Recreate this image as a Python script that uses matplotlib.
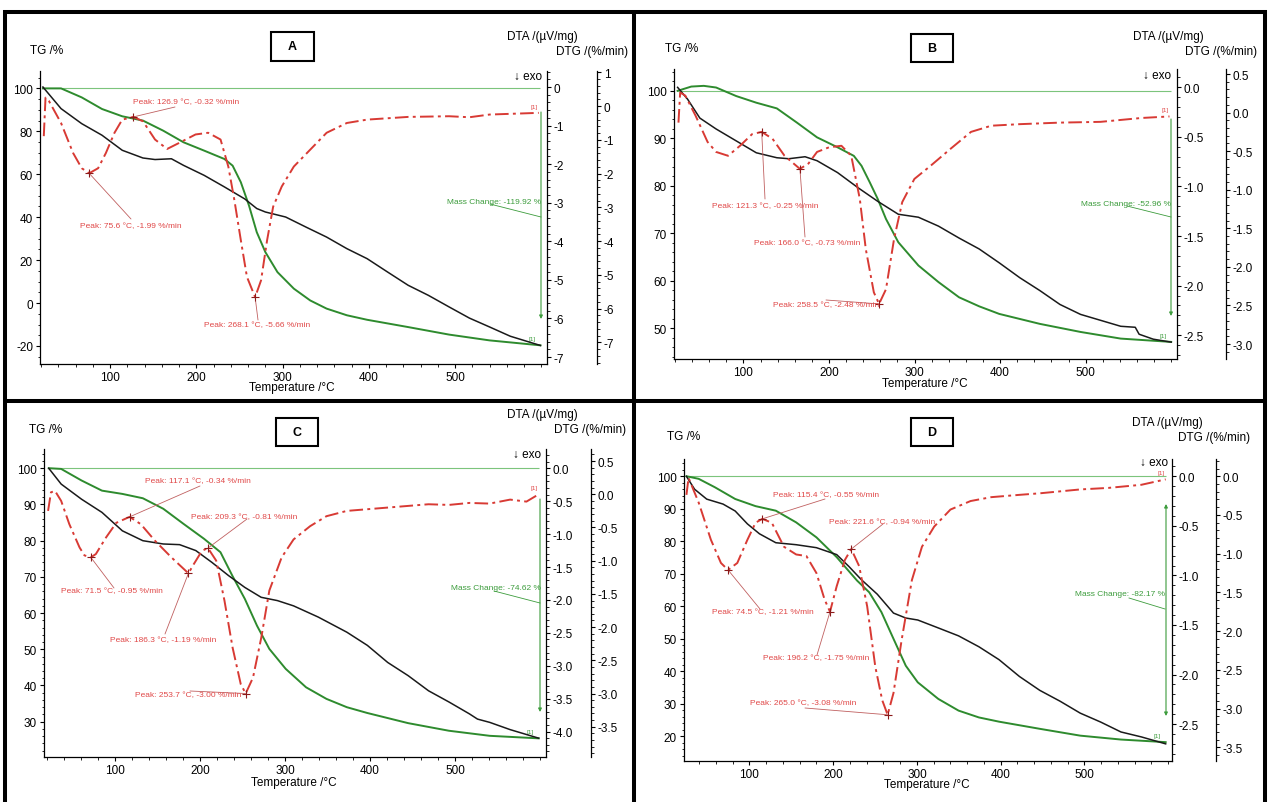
import matplotlib
matplotlib.use('Agg')
import matplotlib.pyplot as plt
from matplotlib.lines import Line2D
from matplotlib.patches import Rectangle
from matplotlib.ticker import MultipleLocator, FormatStrFormatter

plt.rcParams['font.family'] = ['Liberation Sans', 'DejaVu Sans']
plt.rcParams['axes.unicode_minus'] = False

# ---------------- data ----------------
# Panel A
temp_A_tg = [22, 43, 67, 90.5, 114, 138, 161.5, 185, 209, 232.5, 242, 251.5, 261, 270, 280, 294, 313, 332, 351,
             374.5, 398, 445.6, 493, 540, 599]
tg_A = [100, 100, 95.8, 90.4, 87, 85, 80.3, 74.9, 71, 67.1, 64, 56.3, 45.4, 33, 23.7, 14.4, 6.7, 1.2, -2.6,
        -5.7, -7.8, -11.2, -14.7, -17.4, -19.7]
temp_A_dta = [22, 43, 67, 90.5, 114, 138, 152, 171, 185, 209, 232.5, 256, 270, 280, 303.5, 327, 351, 374.5, 398,
              422, 445.6, 469, 493, 516.6, 540, 564, 599]
dta_A = [0, -0.56, -0.95, -1.25, -1.64, -1.84, -1.88, -1.86, -2.03, -2.29, -2.59, -2.9, -3.15, -3.24, -3.37,
         -3.63, -3.89, -4.19, -4.45, -4.8, -5.14, -5.4, -5.7, -5.99, -6.22, -6.46, -6.7]
temp_A_dtg = [23, 25, 29, 43, 57, 67, 75.6, 86, 95, 105, 114, 126.9, 138, 152, 166, 180, 199, 213.6, 228, 237,
              244, 251.5, 258.6, 268.1, 275, 282, 289, 299, 313, 332, 351, 374.5, 398, 445.6, 493, 516.6, 540, 597]
dtg_A = [-0.89, 0.25, 0.15, -0.5, -1.39, -1.84, -1.99, -1.84, -1.39, -0.79, -0.4, -0.32, -0.45, -0.99, -1.27,
         -1.09, -0.84, -0.79, -0.99, -1.79, -2.78, -3.97, -5.06, -5.66, -5.16, -3.97, -2.98, -2.38, -1.79, -1.29,
         -0.79, -0.5, -0.4, -0.32, -0.3, -0.33, -0.25, -0.2]
peaks_A = [("126.9", -0.32), ("75.6", -1.99), ("268.1", -5.66)]
mass_change_A = "-119.92"

# Panel B
temp_B_tg = [23, 39, 53.6, 68, 91.5, 115, 139, 162.5, 186, 210, 229, 238, 247.7, 257, 266.6, 281, 304.5, 328, 352,
             375.5, 399, 446.5, 494, 541, 600]
tg_B = [100, 100.9, 101.05, 100.7, 98.9, 97.5, 96.3, 93.3, 90.2, 88.1, 86.3, 84.2, 80.7, 77.2, 73, 68.1, 63.2,
        59.7, 56.5, 54.6, 53, 50.9, 49.2, 47.8, 47.1]
temp_B_dta = [23, 34.7, 49, 68, 91.5, 115, 139, 153, 172, 186, 210, 233.5, 257, 281, 304.5, 328, 352, 375.5, 399,
              423, 446.5, 470, 494, 517.5, 541, 558, 562.5, 579, 600]
dta_B = [0, -0.12, -0.31, -0.42, -0.54, -0.66, -0.71, -0.72, -0.70, -0.74, -0.86, -1.01, -1.15, -1.28, -1.31,
         -1.40, -1.52, -1.63, -1.77, -1.92, -2.05, -2.19, -2.29, -2.35, -2.41, -2.42, -2.49, -2.54, -2.57]
temp_B_dtg = [24, 26, 32, 44, 58, 68, 82, 96, 110, 121.3, 134, 148, 166, 176, 186, 200, 214.5, 226, 236, 243,
              252.4, 258.5, 266.6, 276, 285.6, 299.8, 318.7, 342, 366, 389.7, 423, 470, 517.5, 565, 598]
dtg_B = [-0.13, 0.26, 0.22, -0.04, -0.38, -0.51, -0.56, -0.43, -0.28, -0.25, -0.34, -0.56, -0.73, -0.66, -0.51,
         -0.45, -0.43, -0.56, -1.12, -1.77, -2.33, -2.48, -2.29, -1.64, -1.16, -0.86, -0.69, -0.47, -0.25, -0.17,
         -0.15, -0.13, -0.12, -0.07, -0.05]
peaks_B = [("121.3", -0.25), ("166.0", -0.73), ("258.5", -2.48)]
mass_change_B = "-52.96"

# Panel C
temp_C_tg = [22, 36.6, 60.6, 84.6, 108.6, 132.7, 156.7, 180.7, 204.7, 224, 238, 252.7, 267, 281.5, 300.7, 324.7,
             348.7, 372.7, 396.8, 444.8, 492.8, 540.8, 598.4]
tg_C = [100, 99.8, 96.6, 93.8, 92.9, 91.7, 88.8, 84.6, 80.5, 76.8, 70.3, 63.9, 56.5, 50.1, 44.6, 39.5, 36.3, 34,
        32.4, 29.6, 27.5, 26.1, 25.4]
temp_C_dta = [22, 36.6, 60.6, 84.6, 108.6, 132.7, 156.7, 175.9, 195, 214, 233.5, 252.7, 271.9, 291, 310, 339,
              372.7, 396.8, 420.8, 444.8, 468.8, 492.8, 516.8, 526.4, 540.8, 564.8, 598.4]
dta_C = [0, -0.24, -0.47, -0.67, -0.95, -1.10, -1.15, -1.16, -1.25, -1.43, -1.63, -1.81, -1.96, -2.01, -2.09,
         -2.26, -2.49, -2.69, -2.95, -3.15, -3.38, -3.55, -3.73, -3.81, -3.86, -3.97, -4.10]
temp_C_dtg = [21.2, 24.6, 29.4, 36.6, 46.2, 58.2, 64, 71.5, 77.4, 89.4, 101.4, 117.1, 130.3, 147, 166.3, 186.3,
              192.7, 202.3, 209.3, 219, 228.7, 238.3, 247.9, 253.7, 262.3, 272, 281.5, 296, 310, 329.5, 348.7,
              372.7, 420.8, 468.8, 492.8, 516.8, 540.8, 564.8, 584, 598.4]
dtg_C = [-0.25, 0.03, 0.05, -0.10, -0.45, -0.80, -0.92, -0.95, -0.90, -0.65, -0.43, -0.34, -0.45, -0.70, -0.95,
         -1.19, -1.05, -0.85, -0.81, -1.00, -1.60, -2.31, -2.86, -3.00, -2.76, -2.16, -1.45, -0.95, -0.68, -0.48,
         -0.33, -0.25, -0.20, -0.15, -0.16, -0.13, -0.14, -0.08, -0.11, 0.0]
peaks_C = [("117.1", -0.34), ("209.3", -0.81), ("71.5", -0.95), ("186.3", -1.19), ("253.7", -3.00)]
mass_change_C = "-74.62"

# Panel D
temp_D_tg = [24.8, 39.4, 58.8, 83, 107.3, 131.5, 155.8, 180, 204.2, 228.5, 243, 257.6, 272, 286.7, 301, 325.5,
             349.7, 374, 398, 446.7, 495, 543.6, 597]
tg_D = [100, 99.2, 96.6, 93, 90.8, 89.4, 85.8, 81.2, 75.1, 67.9, 64.3, 58.2, 50, 41.7, 36.6, 31.5, 27.9, 25.8,
        24.5, 22.3, 20.2, 19, 18.2]
temp_D_dta = [24.8, 34.5, 49, 68.5, 83, 97.6, 112, 131.5, 155.8, 180, 204.2, 218.8, 233.3, 252.7, 272, 286.7,
              301, 325.5, 349.7, 374, 398, 422.4, 446.7, 471, 495, 519.4, 543.6, 568, 597]
dta_D = [0, -0.13, -0.23, -0.28, -0.35, -0.48, -0.58, -0.67, -0.69, -0.72, -0.79, -0.91, -1.04, -1.19, -1.38,
         -1.43, -1.45, -1.53, -1.61, -1.72, -1.85, -2.02, -2.16, -2.27, -2.39, -2.48, -2.58, -2.63, -2.70]
temp_D_dtg = [24.8, 27.3, 39.4, 54, 66, 74.5, 85.5, 97.6, 107.3, 115.4, 126.7, 141.2, 155.8, 168, 180, 189.7,
              196.2, 204.2, 214, 221.6, 231, 240.6, 250.3, 258.5, 265, 272, 281.8, 294, 306, 320.6, 340, 364,
              388.5, 422.4, 446.7, 495, 529, 568, 597]
dtg_D = [-0.24, -0.02, -0.34, -0.82, -1.12, -1.21, -1.12, -0.82, -0.60, -0.55, -0.60, -0.91, -1.01, -1.03, -1.25,
         -1.59, -1.75, -1.42, -1.08, -0.94, -1.16, -1.68, -2.46, -2.89, -3.08, -2.80, -2.11, -1.34, -0.91, -0.65,
         -0.43, -0.32, -0.27, -0.24, -0.22, -0.17, -0.15, -0.11, -0.04]
peaks_D = [("115.4", -0.55), ("221.6", -0.94), ("74.5", -1.21), ("196.2", -1.75), ("265.0", -3.08)]
mass_change_D = "-82.17"

x_ticks = [100, 200, 300, 400, 500]

# ---------------- layout (pixels, origin top-left) ----------------
W, H = 1270, 803
GREEN = '#2e8b2e'
GREEN_T = '#3c9c3c'
RED = '#d83a34'
RED_T = '#e04848'
MARK = '#8b1a1a'

panels = [
    dict(name='A', tg=(temp_A_tg, tg_A), dta=(temp_A_dta, dta_A), dtg=(temp_A_dtg, dtg_A), peaks=peaks_A,
         mc=mass_change_A,
         box=(40, 72, 547, 365), dtg_off=50, xlim=(18.6, 606.6),
         tg_lim=(-28.4, 108.1), dta_lim=(-7.18, 0.415), dtg_lim=(-7.64, 1.04),
         tg_tick=(20, 5), dta_tick=(1, 0.2), dtg_tick=(1, 0.2), rfmt='%d',
         tg_lab=(30, 51), lbox=(271, 33, 314, 62), dta_lab=(542, 37), dtg_lab=(628, 52), exo=(542, 77),
         xlab=(292, 388),
         ptext=[(133, 103, 175, 108), (80, 227, 131, 220), (204, 326, 258, 321)],
         mc_text=(541, 203), mc_lead=(490, 205, 541, 218), arrow=(541, 113, 320, False)),
    dict(name='B', tg=(temp_B_tg, tg_B), dta=(temp_B_dta, dta_B), dtg=(temp_B_dtg, dtg_B), peaks=peaks_B,
         mc=mass_change_B,
         box=(673.5, 70, 1177, 360), dtg_off=49, xlim=(18.2, 606.8),
         tg_lim=(43.5, 104.6), dta_lim=(-2.74, 0.185), dtg_lim=(-3.194, 0.565),
         tg_tick=(10, 2), dta_tick=(0.5, 0.1), dtg_tick=(0.5, 0.1), rfmt='%.1f',
         tg_lab=(665, 49), lbox=(911, 35, 953, 63), dta_lab=(1168, 37), dtg_lab=(1257, 52), exo=(1171, 76),
         xlab=(924.5, 384),
         ptext=[(712, 207, 765, 200), (754, 244, 805, 238), (773, 306, 826, 301)],
         mc_text=(1171, 204), mc_lead=(1127, 207, 1171, 218), arrow=(1171, 120, 317, False)),
    dict(name='C', tg=(temp_C_tg, tg_C), dta=(temp_C_dta, dta_C), dtg=(temp_C_dtg, dtg_C), peaks=peaks_C,
         mc=mass_change_C,
         box=(44, 450, 546, 758), dtg_off=45, xlim=(16.4, 607),
         tg_lim=(20.25, 105.3), dta_lim=(-4.386, 0.293), dtg_lim=(-3.956, 0.682),
         tg_tick=(10, 2), dta_tick=(0.5, 0.1), dtg_tick=(0.5, 0.1), rfmt='%.1f',
         tg_lab=(29, 430), lbox=(276, 419, 318, 447), dta_lab=(542, 415), dtg_lab=(626.5, 430), exo=(541, 455),
         xlab=(294, 783),
         ptext=[(145, 482, 200, 487), (191, 518, 247, 520), (61, 592, 114, 589), (110, 641, 165, 635),
                (135, 696, 190, 692)],
         mc_text=(541, 588), mc_lead=(494, 592, 540, 604), arrow=(540, 500, 713, False)),
    dict(name='D', tg=(temp_D_tg, tg_D), dta=(temp_D_dta, dta_D), dtg=(temp_D_dtg, dtg_D), peaks=peaks_D,
         mc=mass_change_D,
         box=(683.6, 460, 1171.7, 762), dtg_off=44, xlim=(21.4, 604.2),
         tg_lim=(12.4, 105.3), dta_lim=(-2.873, 0.175), dtg_lim=(-3.677, 0.223),
         tg_tick=(10, 2), dta_tick=(0.5, 0.1), dtg_tick=(0.5, 0.1), rfmt='%.1f',
         tg_lab=(667, 437), lbox=(911, 419, 953, 447), dta_lab=(1167, 423), dtg_lab=(1250, 438), exo=(1168, 463),
         xlab=(926.5, 785),
         ptext=[(773, 496, 825, 500), (829, 523, 883, 525), (712, 613, 760, 610), (763, 659, 817, 656),
                (750, 704, 805, 709)],
         mc_text=(1165, 595), mc_lead=(1129, 599, 1165, 610), arrow=(1166, 505, 717, True)),
]

fig = plt.figure(figsize=(W / 100, H / 100), dpi=100)


def ftext(x, y, s, **kw):
    fig.text(x / W, 1 - y / H, s, **kw)


def style_axis(axis_obj, major, minor, fmt):
    axis_obj.set_major_locator(MultipleLocator(major))
    axis_obj.set_minor_locator(MultipleLocator(minor))
    axis_obj.set_major_formatter(FormatStrFormatter(fmt))


for p in panels:
    l, t, r, b = p['box']
    ax = fig.add_axes([l / W, 1 - b / H, (r - l) / W, (b - t) / H])
    ax.patch.set_alpha(0)
    for s in ('top', 'right'):
        ax.spines[s].set_visible(False)
    ax.set_xlim(*p['xlim'])
    ax.set_ylim(*p['tg_lim'])
    ax.set_xticks(x_ticks)
    ax.xaxis.set_minor_locator(MultipleLocator(20))
    style_axis(ax.yaxis, p['tg_tick'][0], p['tg_tick'][1], '%d')

    ax2 = ax.twinx()
    ax2.set_ylim(*p['dta_lim'])
    for s in ('top', 'left', 'bottom'):
        ax2.spines[s].set_visible(False)
    style_axis(ax2.yaxis, p['dta_tick'][0], p['dta_tick'][1], p['rfmt'])

    ax3 = ax.twinx()
    ax3.set_ylim(*p['dtg_lim'])
    for s in ('top', 'left', 'bottom'):
        ax3.spines[s].set_visible(False)
    ax3.spines['right'].set_position(('outward', p['dtg_off'] * 0.72))
    style_axis(ax3.yaxis, p['dtg_tick'][0], p['dtg_tick'][1], p['rfmt'])

    for a in (ax, ax2, ax3):
        for s in a.spines.values():
            s.set_linewidth(0.9)
        a.tick_params(which='major', direction='out', length=3, width=0.8, labelsize=8.5, pad=2)
        a.tick_params(which='minor', direction='out', length=1.8, width=0.6)

    # curves
    tT, tV = p['tg']
    ax.hlines(100, tT[0], tT[-1], colors='#7cc47c', lw=0.8, zorder=2)
    ax.plot(tT, tV, color=GREEN, lw=1.4, zorder=4)
    ax.annotate('[1]', xy=(tT[-1], tV[-1]), xytext=(-6, 3), textcoords='offset points', fontsize=4.5,
                color=GREEN_T, ha='center', va='bottom')
    dT, dV = p['dta']
    ax2.plot(dT, dV, color='#1a1a1a', lw=1.1, zorder=4)
    gT, gV = p['dtg']
    ax3.plot(gT, gV, color=RED, lw=1.4, ls=(0, (7, 2.2, 1.5, 2.2)), zorder=5)
    ax3.annotate('[1]', xy=(gT[-1], gV[-1]), xytext=(-3, 3), textcoords='offset points', fontsize=4.5,
                 color=RED_T, ha='center', va='bottom')

    # peak markers and labels
    for (tstr, val), (tx, ty, ex, ey) in zip(p['peaks'], p['ptext']):
        tp = float(tstr)
        ax3.plot([tp], [val], marker='+', color=MARK, ms=6, mew=0.8, zorder=6)
        ax3.annotate('', xy=(tp, val), xycoords='data', xytext=(ex, H - ey), textcoords='figure pixels',
                     arrowprops=dict(arrowstyle='-', color='#c06060', lw=0.6, shrinkA=0, shrinkB=0))
        ftext(tx, ty, f"Peak: {tstr} °C, {val:.2f} %/min", fontsize=6, color=RED_T, ha='left', va='center')

    # mass change
    mx, my = p['mc_text']
    ftext(mx, my, f"Mass Change: {p['mc']} %", fontsize=6, color=GREEN_T, ha='right', va='center')
    x1, y1, x2, y2 = p['mc_lead']
    fig.add_artist(Line2D([x1 / W, x2 / W], [1 - y1 / H, 1 - y2 / H], color=GREEN_T, lw=0.6))
    axp, ay1, ay2, both = p['arrow']
    ax.annotate('', xy=(axp, H - ay2), xycoords='figure pixels', xytext=(axp, H - ay1),
                textcoords='figure pixels',
                arrowprops=dict(arrowstyle='<|-|>' if both else '-|>', color=GREEN_T, lw=0.8,
                                mutation_scale=5, shrinkA=0, shrinkB=0))

    # axis titles
    ftext(*p['tg_lab'], "TG /%", fontsize=8.5, ha='left', va='center')
    ftext(*p['dta_lab'], "DTA /(µV/mg)", fontsize=8.5, ha='center', va='center')
    ftext(*p['dtg_lab'], "DTG /(%/min)", fontsize=8.5, ha='right', va='center')
    ftext(*p['exo'], "↓ exo", fontsize=8.5, ha='right', va='center')
    ftext(*p['xlab'], "Temperature /°C", fontsize=8.5, ha='center', va='center')

    # letter box
    bl, bt, br, bb = p['lbox']
    fig.add_artist(Rectangle((bl / W, 1 - bb / H), (br - bl) / W, (bb - bt) / H, transform=fig.transFigure,
                             fill=False, lw=1.5, ec='black'))
    ftext((bl + br) / 2, (bt + bb) / 2, p['name'], fontsize=9, fontweight='bold', ha='center', va='center')

# thick black frame
def hline(y, x0, x1):
    fig.add_artist(Line2D([x0 / W, x1 / W], [1 - y / H, 1 - y / H], color='black', lw=2.9,
                          solid_capstyle='butt'))


def vline(x, y0, y1):
    fig.add_artist(Line2D([x / W, x / W], [1 - y0 / H, 1 - y1 / H], color='black', lw=2.9,
                          solid_capstyle='butt'))


hline(12.5, 3, 1267)
hline(402, 3, 1267)
vline(5, 10.5, 803)
vline(633.5, 10.5, 803)
vline(1265, 10.5, 803)

fig.savefig('out.png', dpi=100)
